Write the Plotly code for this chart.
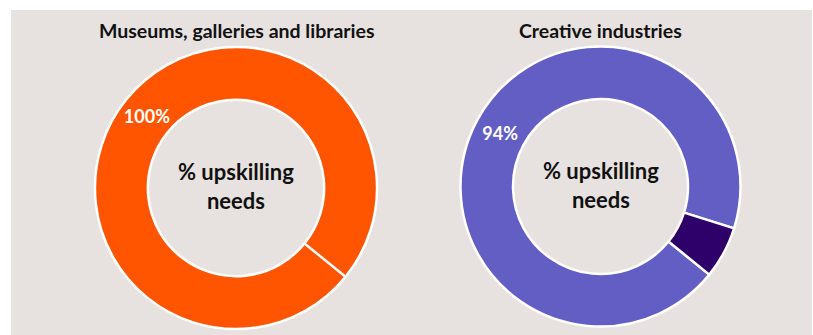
import plotly.graph_objects as go

# Share of organisations reporting upskilling needs, by sector
sectors = ["Museums, galleries and libraries", "Creative industries"]
slice_labels = ["Upskilling needs", "No upskilling needs"]
museums_values = [100, 0]
creative_values = [94, 6]
museums_text = ["100%", ""]
creative_text = ["94%", ""]

W, H = 813, 335
BG = "#E7E2DF"
FONT = "Lato"

museum_colors = ["#FF5500", "#FF5500"]
creative_colors = ["#635EC3", "#2E006A"]

# donut geometry in pixels (centre x, centre y, radius)
donuts = [(236, 188, 141), (600.5, 186.5, 140)]


def domain(cx, cy, r):
    return dict(x=[(cx - r) / W, (cx + r) / W],
                y=[1 - (cy + r) / H, 1 - (cy - r) / H])


fig = go.Figure()
for (cx, cy, r), vals, txt, cols in zip(
        donuts, [museums_values, creative_values],
        [museums_text, creative_text], [museum_colors, creative_colors]):
    fig.add_trace(go.Pie(
        labels=slice_labels,
        values=vals,
        text=txt,
        textinfo="text",
        textposition="inside",
        insidetextorientation="horizontal",
        textfont=dict(family=FONT, size=18, color="white", weight="bold"),
        hole=0.625,
        sort=False,
        direction="clockwise",
        rotation=129,
        marker=dict(colors=cols, line=dict(color="white", width=2.5)),
        domain=domain(cx, cy, r),
        showlegend=False,
        hoverinfo="label+percent",
    ))

annotations = []
for (cx, cy, r), name in zip(donuts, sectors):
    annotations.append(dict(
        x=cx / W, y=1 - 30 / H, xref="paper", yref="paper",
        text=f"<b>{name}</b>", showarrow=False,
        font=dict(family=FONT, size=19.5, color="#111111"),
        xanchor="center", yanchor="middle"))
    annotations.append(dict(
        x=cx / W, y=1 - (cy - 2) / H, xref="paper", yref="paper",
        text="<b>% upskilling<br>needs</b>", showarrow=False,
        font=dict(family=FONT, size=22, color="#111111"),
        xanchor="center", yanchor="middle"))

fig.update_layout(
    width=W, height=H,
    margin=dict(l=0, r=0, t=0, b=0),
    paper_bgcolor="white",
    shapes=[dict(type="rect", xref="paper", yref="paper",
                 x0=11 / W, x1=812 / W, y0=0, y1=1 - 10 / H,
                 fillcolor=BG, line=dict(width=0), layer="below")],
    annotations=annotations,
)

fig.write_html("out.html")
